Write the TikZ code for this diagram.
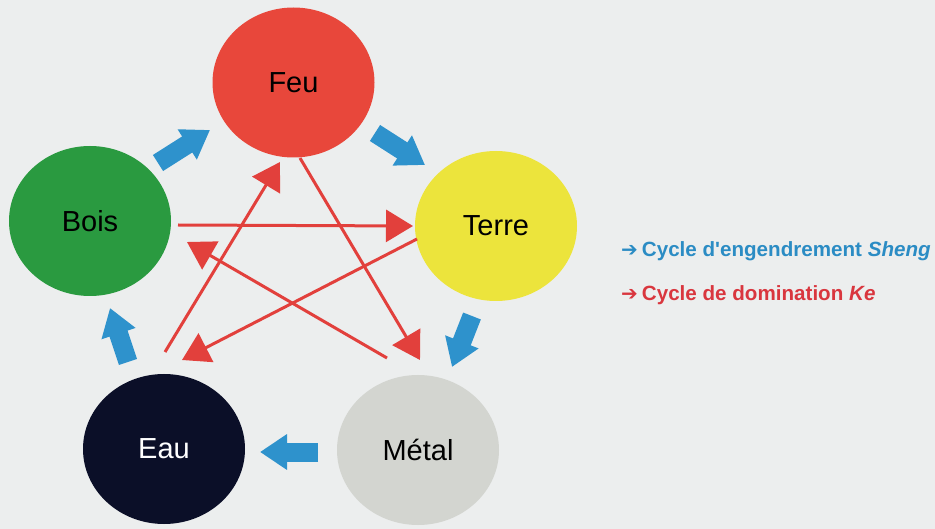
\documentclass[tikz,border=0pt]{standalone}
\usepackage{fontspec}
\setmainfont{Liberation Sans}
\newfontfamily\symfont{DejaVu Sans Bold}
\usetikzlibrary{shapes.geometric,arrows.meta}
\definecolor{bgc}{HTML}{ECEEEE}
\definecolor{feuc}{HTML}{E8473B}
\definecolor{boisc}{HTML}{2A9A40}
\definecolor{terrec}{HTML}{ECE43C}
\definecolor{eauc}{HTML}{0B0F28}
\definecolor{metalc}{HTML}{D3D5D0}
\definecolor{shengc}{HTML}{2E92CC}
\definecolor{kec}{HTML}{E2403C}
\definecolor{legblue}{HTML}{2B8CC4}
\definecolor{legred}{HTML}{D9363E}
\begin{document}
\begin{tikzpicture}[x=1pt,y=-1pt,
  element/.style={ellipse,inner sep=0pt,minimum width=162pt,minimum height=150pt,
    font=\fontsize{29}{32}\selectfont},
  sheng/.style={draw=shengc,fill=shengc,line width=19pt,-{Triangle[width=34pt,length=27pt]}},
  ke/.style={draw=kec,fill=kec,line width=3pt,-{Triangle[width=32pt,length=27pt]}},
  legend/.style={anchor=base west,inner sep=0pt,font=\fontsize{20.6}{23}\selectfont\bfseries}]
\useasboundingbox (0,0) rectangle (935,529);
\fill[bgc] (0,0) rectangle (935,529);

% elements
\node[element,fill=feuc] (feu) at (293.5,82.5) {Feu};
\node[element,fill=boisc] (bois) at (90,221) {Bois};
\node[element,fill=terrec] (terre) at (496,226) {Terre};
\node[element,fill=eauc,text=white] (eau) at (164,449) {Eau};
\node[element,fill=metalc] (metal) at (418,450) {Métal};

% Sheng cycle (blue block arrows)
\coordinate (s1a) at (158,163); \coordinate (s1b) at (210,130);
\coordinate (s2a) at (375,133); \coordinate (s2b) at (425,165);
\coordinate (s3a) at (472,316); \coordinate (s3b) at (452,367);
\coordinate (s4a) at (318,452); \coordinate (s4b) at (260,452);
\coordinate (s5a) at (128,362); \coordinate (s5b) at (110,308);
\draw[sheng] (s1a) -- (s1b);
\draw[sheng] (s2a) -- (s2b);
\draw[sheng] (s3a) -- (s3b);
\draw[sheng] (s4a) -- (s4b);
\draw[sheng] (s5a) -- (s5b);

% Ke cycle (red star)
\coordinate (k1a) at (178,225); \coordinate (k1b) at (413,226);
\coordinate (k2a) at (417,239); \coordinate (k2b) at (182,360);
\coordinate (k3a) at (165,352); \coordinate (k3b) at (280,162);
\coordinate (k4a) at (300,158); \coordinate (k4b) at (420,360);
\coordinate (k5a) at (387,358); \coordinate (k5b) at (187,242);
\draw[ke] (k1a) -- (k1b);
\draw[ke] (k2a) -- (k2b);
\draw[ke] (k3a) -- (k3b);
\draw[ke] (k4a) -- (k4b);
\draw[ke] (k5a) -- (k5b);

% legend
\node[legend,text=legblue] (leg1) at (621,257)
  {{\symfont\fontsize{20}{23}\selectfont ➔}\hspace{4pt}Cycle d\textquotesingle engendrement \textit{Sheng}};
\node[legend,text=legred] (leg2) at (621,301)
  {{\symfont\fontsize{20}{23}\selectfont ➔}\hspace{4pt}Cycle de domination \textit{Ke}};
\end{tikzpicture}
\end{document}
